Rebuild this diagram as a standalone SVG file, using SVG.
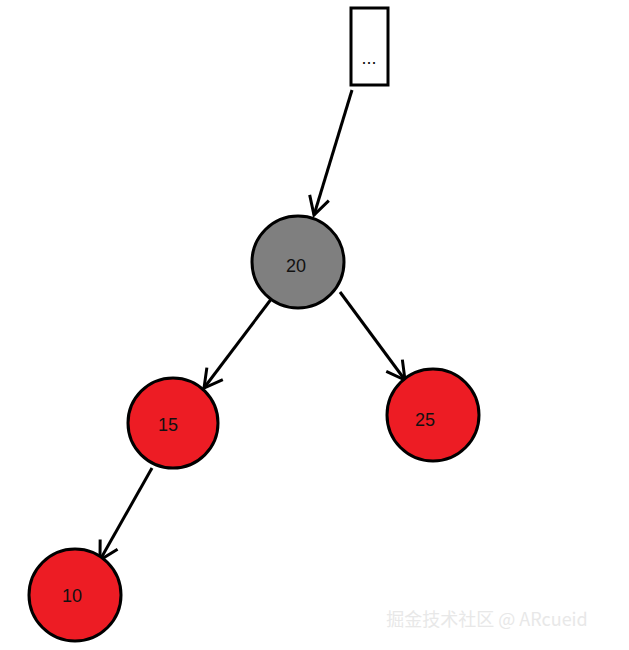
<svg xmlns="http://www.w3.org/2000/svg" width="629" height="650" viewBox="0 0 629 650">
<style>
.n{stroke:#000;stroke-width:3}
.t{font-family:"Liberation Sans",sans-serif;font-size:18px;fill:#111;text-anchor:middle}
.c{stroke:#000;stroke-width:3;fill:none}
</style>
<defs>
<marker id="a" markerWidth="24" markerHeight="24" refX="20" refY="12" orient="auto" markerUnits="userSpaceOnUse">
<path d="M2,2 L20,12 L2,22" fill="none" stroke="#000" stroke-width="3"/>
</marker>
</defs>
<rect width="629" height="650" fill="#fff"/>
<g id="connectors">
<line class="c" x1="352" y1="90" x2="314" y2="215" marker-end="url(#a)"/>
<line class="c" x1="272" y1="298" x2="204" y2="388" marker-end="url(#a)"/>
<line class="c" x1="340" y1="292" x2="405" y2="380" marker-end="url(#a)"/>
<line class="c" x1="152" y1="468" x2="100" y2="560" marker-end="url(#a)"/>
</g>
<g id="top"><rect class="n" x="351" y="8" width="37" height="77" fill="#fff"/><text class="t" x="369" y="64" font-size="14">...</text></g>
<g id="n20"><circle class="n" cx="298" cy="262" r="46" fill="#7f7f7f"/><text class="t" x="296" y="272">20</text></g>
<g id="n15"><circle class="n" cx="173" cy="423" r="45" fill="#ed1c24"/><text class="t" x="168" y="431">15</text></g>
<g id="n25"><circle class="n" cx="433" cy="415" r="46" fill="#ed1c24"/><text class="t" x="425" y="426">25</text></g>
<g id="n10"><circle class="n" cx="75" cy="595" r="46" fill="#ed1c24"/><text class="t" x="72" y="602">10</text></g>
<text x="487" y="626" font-family="'Noto Sans CJK SC',sans-serif" font-size="18" fill="#e8e8e8" text-anchor="middle">掘金技术社区 @ ARcueid</text>
</svg>
